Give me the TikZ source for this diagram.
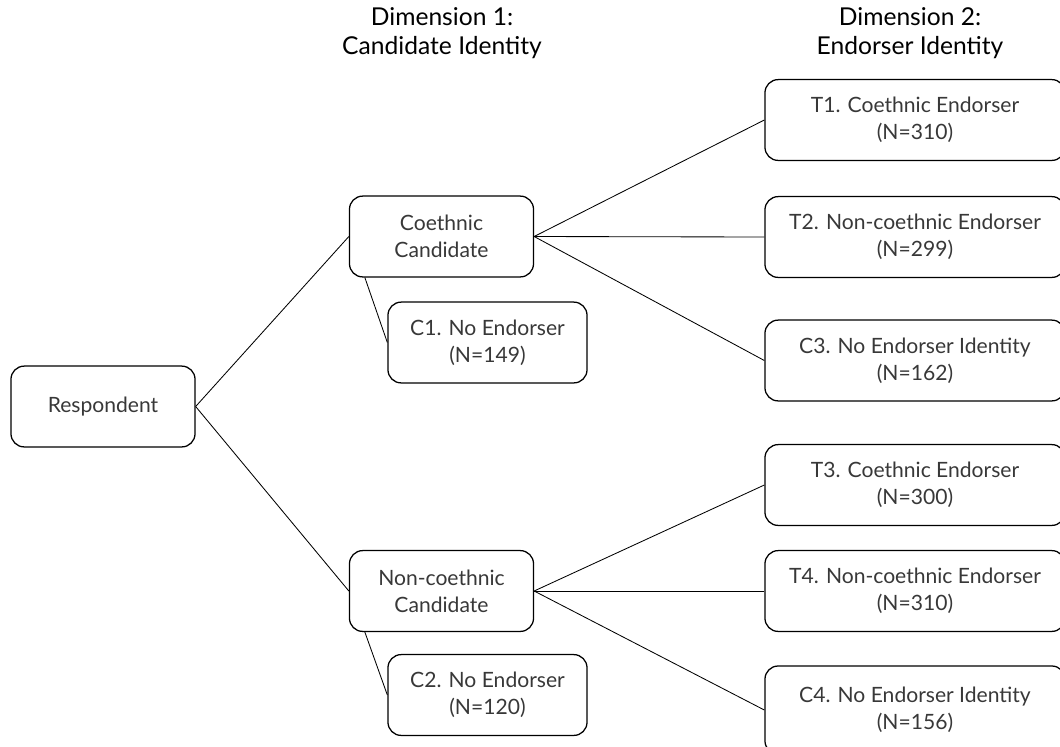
\documentclass[tikz,border=0pt]{standalone}
\usepackage{fontspec}
\setmainfont{Lato}
\usetikzlibrary{positioning}
\begin{document}
\begin{tikzpicture}[
x=0.025cm, y=-0.025cm,
font=\fontsize{15}{19}\selectfont,
box/.style={draw, line width=0.9pt, rounded corners=0.33cm, align=center, text=black!78, minimum width=4.6cm, minimum height=2.02cm, inner sep=2pt},
leaf/.style={box, minimum width=4.975cm},
arm/.style={box, minimum width=7.5cm},
link/.style={line width=0.6pt},
dimlabel/.style={align=center, font=\fontsize{17.5}{21}\selectfont}
]
\useasboundingbox (0,0) rectangle (1060,746);
\clip (0,0) rectangle (1060,746);

\node[dimlabel] (dim1) at (442,33) {Dimension 1:\\Candidate Identity};
\node[dimlabel] (dim2) at (910,33) {Dimension 2:\\Endorser Identity};

\node[box] (resp) at (103,406.5) {Respondent};
\node[box] (coeth) at (441.5,236.5) {Coethnic\\Candidate};
\node[box] (noneth) at (441.5,591) {Non-coethnic\\Candidate};
\node[leaf] (c1) at (487.5,342.5) {C1. No Endorser\\(N=149)};
\node[leaf] (c2) at (487.5,695) {C2. No Endorser\\(N=120)};

\node[arm] (t1) at (915,120) {T1. Coethnic Endorser\\(N=310)};
\node[arm] (t2) at (915,237) {T2. Non-coethnic Endorser\\(N=299)};
\node[arm] (c3) at (915,360.5) {C3. No Endorser Identity\\(N=162)};
\node[arm] (t3) at (915,485) {T3. Coethnic Endorser\\(N=300)};
\node[arm] (t4) at (915,591) {T4. Non-coethnic Endorser\\(N=310)};
\node[arm, minimum height=2.2cm] (c4) at (915,710) {C4. No Endorser Identity\\(N=156)};

\draw[link] (resp.east) -- (coeth.west);
\draw[link] (resp.east) -- (noneth.west);
\draw[link] ([xshift=0.4cm]coeth.south west) -- (c1.west);
\draw[link] ([xshift=0.4cm]noneth.south west) -- (c2.west);
\draw[link] (coeth.east) -- (t1.west);
\draw[link] (coeth.east) -- (t2.west);
\draw[link] (coeth.east) -- (c3.west);
\draw[link] (noneth.east) -- (t3.west);
\draw[link] (noneth.east) -- (t4.west);
\draw[link] (noneth.east) -- (c4.west);
\end{tikzpicture}
\end{document}
